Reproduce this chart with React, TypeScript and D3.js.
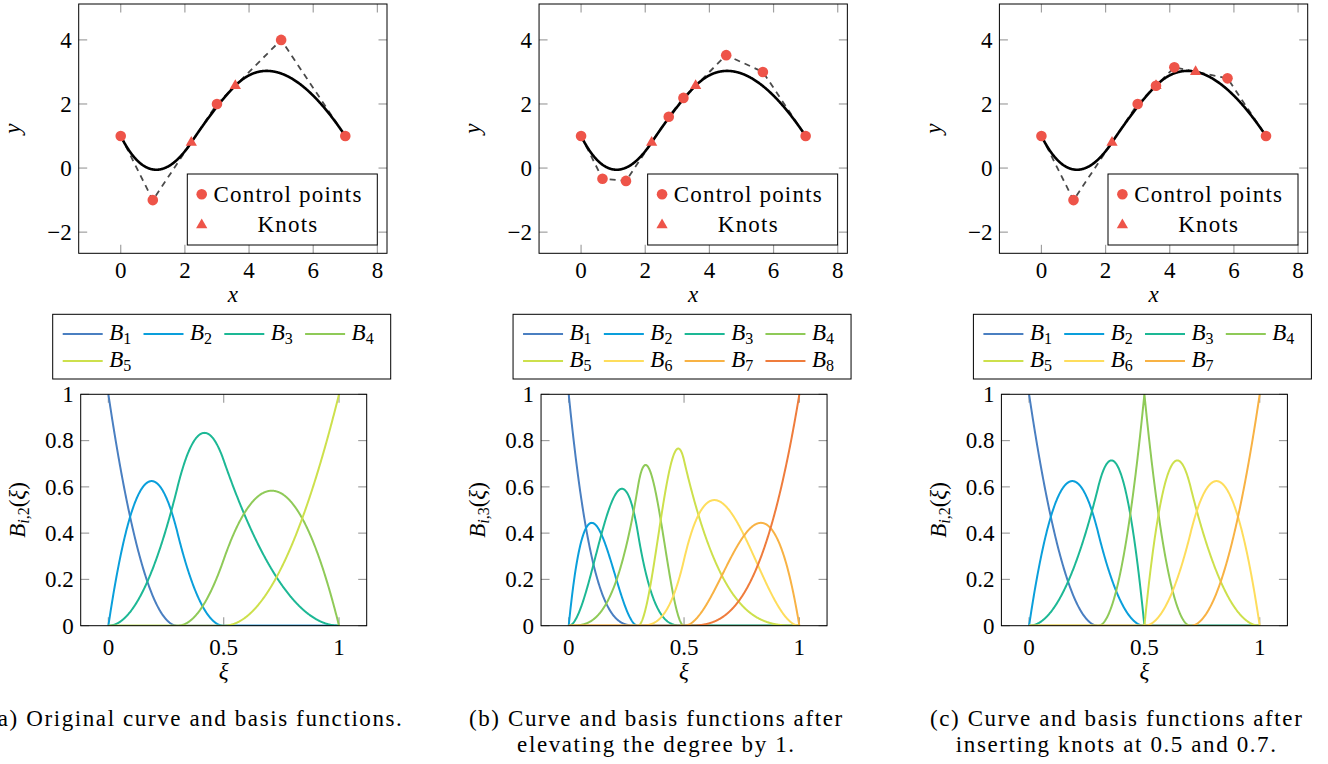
import React from "react";
import * as d3 from "d3";

const W = 1328;
const H = 764;
const FONT = "'Liberation Serif','Times New Roman',serif";

// ---------------- data ----------------
// (a) original quadratic B-spline
const degreeA = 2;
const knotVectorA = [0, 0, 0, 0.3, 0.5, 1, 1, 1];
const ctrlXA = [0, 1, 3, 5, 7];
const ctrlYA = [1, -1, 2, 4, 1];

// (b) degree elevated to cubic
const degreeB = 3;
const knotVectorB = [0, 0, 0, 0, 0.3, 0.3, 0.5, 0.5, 1, 1, 1, 1];
const ctrlXB = [0, 0.667, 1.4, 2.733, 3.19, 4.524, 5.667, 7];
const ctrlYB = [1, -0.333, -0.4, 1.6, 2.19, 3.524, 3, 1];

// (c) knots inserted at 0.5 and 0.7
const degreeC = 2;
const knotVectorC = [0, 0, 0, 0.3, 0.5, 0.5, 0.7, 1, 1, 1];
const ctrlXC = [0, 1, 3, 3.571, 4.143, 5.8, 7];
const ctrlYC = [1, -1, 2, 2.571, 3.143, 2.8, 1];

const captionA = ["(a) Original curve and basis functions."];
const captionB = ["(b) Curve and basis functions after", "elevating the degree by 1."];
const captionC = ["(c) Curve and basis functions after", "inserting knots at 0.5 and 0.7."];

const topXTicks = [0, 2, 4, 6, 8];
const topYTicks = [-2, 0, 2, 4];
const topXDomain = [-1.31, 8.3];
const topYDomain = [-2.66, 5.12];

const botXTicks = [0, 0.5, 1];
const botXTickLabels = ["0", "0.5", "1"];
const botYTicks = [0, 0.2, 0.4, 0.6, 0.8, 1];
const botYTickLabels = ["0", "0.2", "0.4", "0.6", "0.8", "1"];
const botXDomain = [-0.12, 1.12];
const botYDomain = [0, 1];

const basisColors = [
  "#4a7fc1",
  "#0a9fdb",
  "#1db895",
  "#8fca58",
  "#cde04c",
  "#fedd5c",
  "#f8b244",
  "#ef7c3c",
];
const markerColor = "#ee5449";
const topLegendLabels = ["Control points", "Knots"];

// ---------------- B-spline helpers ----------------
function findSpan(U: number[], p: number, t: number) {
  const n = U.length - p - 2;
  if (t >= U[n + 1]) return n;
  let s = p;
  while (s < n && !(t >= U[s] && t < U[s + 1])) s++;
  return s;
}

function basisAll(U: number[], p: number, t: number) {
  const m = U.length - 1;
  const span = findSpan(U, p, t);
  let N = new Array(m).fill(0);
  N[span] = 1;
  for (let k = 1; k <= p; k++) {
    const M = new Array(m - k).fill(0);
    for (let i = 0; i < m - k; i++) {
      let v = 0;
      const d1 = U[i + k] - U[i];
      if (d1 > 0) v += ((t - U[i]) / d1) * N[i];
      const d2 = U[i + k + 1] - U[i + 1];
      if (d2 > 0) v += ((U[i + k + 1] - t) / d2) * N[i + 1];
      M[i] = v;
    }
    N = M;
  }
  return N;
}

const FS = 23;
const SUB = 16;
const LS = 1.2;
const CAP_LS = 1.6;
const TICK = "#a0a0a0";
const TL = 8.5;

function Panel({ idx, dx, p, U, px, py, caption }: any) {
  const xT = d3.scaleLinear().domain(topXDomain).range([78.7 + dx, 387 + dx]);
  const yT = d3.scaleLinear().domain(topYDomain).range([253.3, 4]);
  const xB = d3.scaleLinear().domain(botXDomain).range([80.7 + dx, 366.7 + dx]);
  const yB = d3.scaleLinear().domain(botYDomain).range([625.7, 394.3]);

  const nB = U.length - p - 1;
  const NS = 600;
  const ts = d3.range(NS + 1).map((i) => i / NS);
  const samples = ts.map((t) => basisAll(U, p, t));
  const evalCurve = (b: number[]) => [
    d3.sum(b, (v, i) => v * px[i]),
    d3.sum(b, (v, i) => v * py[i]),
  ];
  const curvePts = samples.map(evalCurve);
  const interior = Array.from(new Set(U.filter((u: number) => u > U[0] && u < U[U.length - 1]))) as number[];
  const knotPts = interior.map((t) => evalCurve(basisAll(U, p, t)));
  const ctrlPts = px.map((x: number, i: number) => [x, py[i]]);

  const lineT = d3
    .line<number[]>()
    .x((d) => xT(d[0]))
    .y((d) => yT(d[1]));
  const lineB = d3
    .line<number>()
    .x((_, j) => xB(ts[j]))
    .y((d) => yB(d));

  const [tx0, tx1] = xT.range();
  const [ty0, ty1] = yT.range(); // bottom, top
  const [bx0, bx1] = xB.range();
  const [by0, by1] = yB.range();

  const tri = (cx: number, cy: number, R: number) =>
    `M${cx},${cy - R}L${cx + R * 0.866},${cy + R * 0.5}L${cx - R * 0.866},${cy + R * 0.5}Z`;

  // legend geometry
  const lgX0 = 52.7 + dx;
  const lgX1 = 390.7 + dx;
  const tlX0 = 187.3 + dx;
  const tlX1 = 377.3 + dx;

  const capCx = 196 + dx;

  return (
    <g>
      <defs>
        <clipPath id={`ct${idx}`}>
          <rect x={tx0} y={ty1} width={tx1 - tx0} height={ty0 - ty1} />
        </clipPath>
        <clipPath id={`cb${idx}`}>
          <rect x={bx0} y={by1} width={bx1 - bx0} height={by0 - by1} />
        </clipPath>
      </defs>

      {/* ---------- top plot ---------- */}
      <g stroke={TICK} strokeWidth={1.2}>
        {topXTicks.map((v) => (
          <g key={`tx${v}`}>
            <line x1={xT(v)} x2={xT(v)} y1={ty0} y2={ty0 - TL} />
            <line x1={xT(v)} x2={xT(v)} y1={ty1} y2={ty1 + TL} />
          </g>
        ))}
        {topYTicks.map((v) => (
          <g key={`ty${v}`}>
            <line x1={tx0} x2={tx0 + TL} y1={yT(v)} y2={yT(v)} />
            <line x1={tx1} x2={tx1 - TL} y1={yT(v)} y2={yT(v)} />
          </g>
        ))}
      </g>
      <g clipPath={`url(#ct${idx})`}>
        <path d={lineT(ctrlPts) || ""} fill="none" stroke="#4a4a4a" strokeWidth={1.8} strokeDasharray="6,5" />
        <path d={lineT(curvePts) || ""} fill="none" stroke="#000" strokeWidth={2.6} />
        {knotPts.map((k, i) => (
          <path key={`k${i}`} d={tri(xT(k[0]), yT(k[1]), 6.5)} fill={markerColor} />
        ))}
        {ctrlPts.map((c: number[], i: number) => (
          <circle key={`c${i}`} cx={xT(c[0])} cy={yT(c[1])} r={5.3} fill={markerColor} />
        ))}
      </g>
      <rect x={tx0} y={ty1} width={tx1 - tx0} height={ty0 - ty1} fill="none" stroke="#000" strokeWidth={1} />
      <g fontSize={FS} fill="#000">
        {topXTicks.map((v) => (
          <text key={`lx${v}`} x={xT(v)} y={278} textAnchor="middle">
            {v}
          </text>
        ))}
        {topYTicks.map((v) => (
          <text key={`ly${v}`} x={tx0 - 7} y={yT(v) + 7.8} textAnchor="end">
            {v < 0 ? "\u2212" + Math.abs(v) : v}
          </text>
        ))}
        <text x={(tx0 + tx1) / 2} y={302} textAnchor="middle" fontStyle="italic">
          x
        </text>
        <text transform={`translate(${20 + dx},${(ty0 + ty1) / 2}) rotate(-90)`} textAnchor="middle" fontStyle="italic">
          y
        </text>
      </g>
      {/* top legend */}
      <rect x={tlX0} y={174} width={tlX1 - tlX0} height={71} fill="#fff" stroke="#000" strokeWidth={1} />
      <circle cx={201.7 + dx} cy={194.3} r={5.3} fill={markerColor} />
      <path d={tri(201.7 + dx, 225, 6.5)} fill={markerColor} />
      <g fontSize={FS} letterSpacing={LS} textAnchor="middle">
        <text x={288 + dx} y={201.7}>
          {topLegendLabels[0]}
        </text>
        <text x={288 + dx} y={231.7}>
          {topLegendLabels[1]}
        </text>
      </g>

      {/* ---------- bottom legend ---------- */}
      <rect x={lgX0} y={314.3} width={lgX1 - lgX0} height={64.7} fill="#fff" stroke="#000" strokeWidth={1} />
      {d3.range(nB).map((i) => {
        const c = i % 4;
        const r = Math.floor(i / 4);
        const x1 = 62.7 + dx + 80.8 * c;
        const y = 334 + 27 * r;
        return (
          <g key={`lg${i}`}>
            <line x1={x1} x2={x1 + 40} y1={y} y2={y} stroke={basisColors[i]} strokeWidth={2} />
            <text x={x1 + 46.5} y={y + 6} fontSize={FS}>
              <tspan fontStyle="italic">B</tspan>
              <tspan fontSize={SUB} dy={4}>
                {i + 1}
              </tspan>
            </text>
          </g>
        );
      })}

      {/* ---------- bottom plot ---------- */}
      <g stroke={TICK} strokeWidth={1.2}>
        {botXTicks.map((v) => (
          <g key={`bx${v}`}>
            <line x1={xB(v)} x2={xB(v)} y1={by0} y2={by0 - TL} />
            <line x1={xB(v)} x2={xB(v)} y1={by1} y2={by1 + TL} />
          </g>
        ))}
        {botYTicks.map((v) => (
          <g key={`by${v}`}>
            <line x1={bx0} x2={bx0 + TL} y1={yB(v)} y2={yB(v)} />
            <line x1={bx1} x2={bx1 - TL} y1={yB(v)} y2={yB(v)} />
          </g>
        ))}
      </g>
      <g clipPath={`url(#cb${idx})`}>
        {d3.range(nB).map((i) => (
          <path
            key={`b${i}`}
            d={lineB(samples.map((s) => s[i])) || ""}
            fill="none"
            stroke={basisColors[i]}
            strokeWidth={2}
            strokeLinejoin="round"
          />
        ))}
      </g>
      <rect x={bx0} y={by1} width={bx1 - bx0} height={by0 - by1} fill="none" stroke="#000" strokeWidth={1} />
      <g fontSize={FS} fill="#000">
        {botXTicks.map((v, i) => (
          <text key={`blx${v}`} x={xB(v)} y={655} textAnchor="middle">
            {botXTickLabels[i]}
          </text>
        ))}
        {botYTicks.map((v, i) => (
          <text key={`bly${v}`} x={bx0 - 7} y={yB(v) + 7.8} textAnchor="end">
            {botYTickLabels[i]}
          </text>
        ))}
        <text x={(bx0 + bx1) / 2} y={679} textAnchor="middle" fontStyle="italic">
          ξ
        </text>
        <text transform={`translate(${25 + dx},${(by0 + by1) / 2}) rotate(-90)`} textAnchor="middle">
          <tspan fontStyle="italic">B</tspan>
          <tspan fontSize={SUB} dy={4}>
            <tspan fontStyle="italic">i</tspan>,{p}
          </tspan>
          <tspan dy={-4}>(</tspan>
          <tspan fontStyle="italic">ξ</tspan>
          <tspan>)</tspan>
        </text>
      </g>

      {/* ---------- caption ---------- */}
      <g fontSize={FS} letterSpacing={CAP_LS} textAnchor="middle">
        {caption.map((s: string, i: number) => (
          <text key={`cap${i}`} x={capCx} y={725.5 + 26.5 * i}>
            {s}
          </text>
        ))}
      </g>
    </g>
  );
}

export default function App() {
  const panels = [
    { dx: 0, p: degreeA, U: knotVectorA, px: ctrlXA, py: ctrlYA, caption: captionA },
    { dx: 460.35, p: degreeB, U: knotVectorB, px: ctrlXB, py: ctrlYB, caption: captionB },
    { dx: 920.7, p: degreeC, U: knotVectorC, px: ctrlXC, py: ctrlYC, caption: captionC },
  ];
  return (
    <svg
      width={W}
      height={H}
      style={{ position: "absolute", left: 0, top: 0, display: "block" }}
      fontFamily={FONT}
    >
      <rect width={W} height={H} fill="#fff" />
      {panels.map((pn, k) => (
        <Panel key={k} idx={k} {...pn} />
      ))}
    </svg>
  );
}
